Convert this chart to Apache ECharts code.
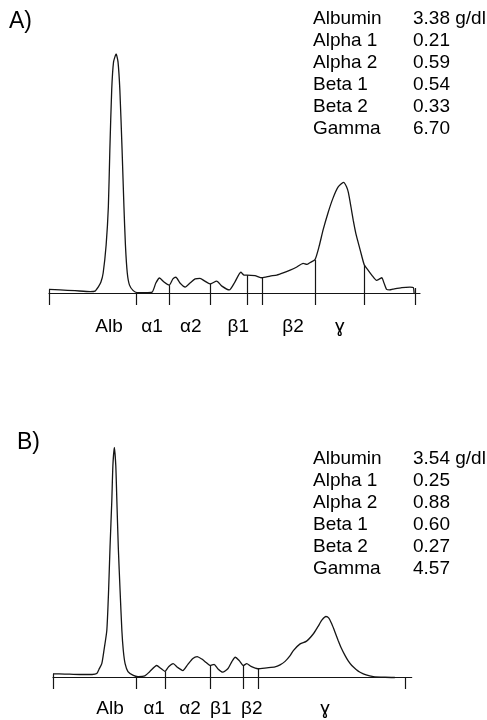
<!DOCTYPE html>
<html>
<head>
<meta charset="utf-8">
<script src="https://cdn.jsdelivr.net/npm/echarts@6/dist/echarts.min.js"></script>
<style>
html,body{margin:0;padding:0;background:#fff;}
#chart{width:487px;height:720px;}
</style>
</head>
<body>
<div id="chart"></div>
<script>
// ---------- Panel A: densitometry trace (x = relative migration 0-100, y = relative absorbance, albumin peak = 100)
var traceAx = [0,3.0,7.0,11.1,12.4,13.3,14.0,14.6,15.4,16.0,16.4,16.9,17.4,18.1,18.6,19.1,19.7,20.2,20.6,21.1,21.7,22.7,23.7,25.9,27.8,28.8,29.8,31.0,32.4,33.4,34.2,35.3,36.7,38.0,39.4,40.7,42.0,43.4,45.2,46.6,48.6,50.1,51.7,52.6,53.4,55.5,57.4,59.6,61.4,63.1,65.0,66.8,
  68.5,69.5,70.4,71.7,72.8,73.9,75.2,76.5,77.9,79.4,80.2,80.7,81.4,82.0,82.7,83.4,84.3,85.0,86.0,87.0,88.3,89.0,89.7,90.3,91.0,91.8,92.7,95.1,97.3,98.2,98.4];
var traceAy = [1.5,1.3,1.0,0.6,0.8,2.6,4.6,8.4,20.1,36.1,59.8,84.9,96.7,100,96.7,84.9,59.8,36.1,20.1,8.4,3.3,1.0,0.2,0.2,0.4,4.2,6.3,4.6,3.3,5.9,6.6,4.2,2.5,4.2,5.9,6.1,5.0,3.8,5.0,2.9,1.3,4.6,8.7,7.5,7.5,7.3,6.4,7.1,7.5,8.4,9.6,10.9,
  12.4,12.0,12.8,14.0,19.5,26.5,33.5,39.5,44.3,46.3,44.5,42.0,36.0,30.5,25.0,20.8,15.5,11.7,9.6,7.5,5.3,5.8,6.4,4.2,1.5,1.3,1.6,2.3,2.5,2.3,0];
var sepAx   = [0,23.4,32.4,43.4,53.4,57.4,71.8,85.0,98.7];
var sepAtop = [1.5,0,3.3,3.8,7.5,6.4,13.8,11.7,2.1];
var labelAx = [16.2,27.8,38.2,51.0,65.8,78.4];
var fractionLabels = ['Alb','α1','α2','β1','β2','ɣ'];
var tableNames = ['Albumin','Alpha 1','Alpha 2','Beta 1','Beta 2','Gamma'];
var tableAvals = ['3.38 g/dl','0.21','0.59','0.54','0.33','6.70'];

// ---------- Panel B
var traceBx = [0,3.3,7.5,10.9,12.2,12.8,13.6,14.2,15.0,15.5,15.9,16.4,16.7,17.1,17.5,17.8,18.2,18.7,19.2,19.6,20.1,20.9,22.4,23.7,25.6,27.0,28.9,30.1,31.2,32.3,33.5,34.8,36.2,37.6,39.0,40.2,41.5,42.7,43.8,44.9,46.0,47.3,48.8,49.9,50.8,51.9,53.1,54.0,55.2,57.1,
  59.6,61.9,63.3,64.7,66.1,67.0,68.9,70.7,72.6,73.9,75.0,76.1,76.9,77.7,78.6,79.5,80.4,81.4,82.3,83.3,84.5,85.6,87.3,89.3,92.6,95.3];
var traceBy = [1.6,1.5,1.3,1.3,1.7,3.5,6.0,11.7,20.4,37.8,56.7,77.0,92.2,100,92.2,77.0,56.7,37.8,20.4,11.7,6.0,2.6,0.9,0.4,0.7,2.6,5.2,3.9,2.7,4.8,6.0,4.3,3.0,5.7,8.3,9.1,8.0,6.5,5.2,5.7,3.7,2.3,3.9,7.0,8.8,7.4,5.2,6.0,4.8,3.8,
  4.2,4.6,5.5,7.0,9.5,11.7,14.6,15.8,19.0,22.2,25.0,26.5,25.8,23.3,19.8,16.1,12.7,9.6,7.2,5.2,3.5,2.3,1.1,0.4,0.1,0];
var sepBx   = [0,23.1,31.2,43.8,53.1,57.1,98.1];
var sepBtop = [1.6,0.4,2.7,5.2,5.2,3.8,0];
var labelBx = [15.9,28.2,38.2,46.8,55.4,75.8];
var tableBvals = ['3.54 g/dl','0.25','0.88','0.60','0.27','4.57'];

var FONT = '"Liberation Sans", Arial, sans-serif';
var INK = '#151515';

function zip(xs, ys){ return xs.map(function(x,i){ return [x, ys[i]]; }); }
function seps(xs, tops){ return xs.map(function(x,i){ return [{coord:[x,-5]},{coord:[x,tops[i]]}]; }); }
function xAxisFor(idx, pos, margin){
  return {
    gridIndex: idx, type: 'value', min: 0, max: 100,
    axisLine: {show: true, onZero: true, lineStyle: {color: INK, width: 1.2}},
    axisTick: {show: false},
    splitLine: {show: false},
    axisLabel: {
      customValues: pos,
      formatter: function(v){ var k = pos.indexOf(v); return k >= 0 ? fractionLabels[k] : ''; },
      margin: margin, fontSize: 19, color: '#000', fontFamily: FONT
    }
  };
}
function yAxisFor(idx){
  return {gridIndex: idx, type: 'value', min: -5, max: 100, show: false, splitLine: {show: false}};
}
function traceSeries(idx, xs, ys, sx, st){
  return {
    type: 'line', xAxisIndex: idx, yAxisIndex: idx,
    data: zip(xs, ys), showSymbol: false, smooth: 0.2,
    lineStyle: {color: INK, width: 1.3},
    silent: true, animation: false,
    markLine: {
      symbol: ['none','none'], silent: true, animation: false,
      label: {show: false},
      lineStyle: {color: INK, width: 1.2, type: 'solid'},
      emphasis: {disabled: true},
      data: seps(sx, st)
    }
  };
}
function tableGraphics(names, vals, y0, dy){
  var g = [];
  names.forEach(function(n,i){
    g.push({type:'text', x:313, y:y0 + dy*i, style:{text:n, fill:'#000', font:'19px ' + FONT, verticalAlign:'middle'}});
    g.push({type:'text', x:413, y:y0 + dy*i, style:{text:vals[i], fill:'#000', font:'19px ' + FONT, verticalAlign:'middle'}});
  });
  return g;
}

var chart = echarts.init(document.getElementById('chart'), null, {renderer: 'canvas'});
chart.setOption({
  backgroundColor: '#fff',
  animation: false,
  title: [
    {text: 'A)', left: 9, top: 10, padding: 0, textStyle: {fontSize: 23, fontWeight: 'normal', color: '#000', fontFamily: FONT}},
    {text: 'B)', left: 17, top: 431, padding: 0, textStyle: {fontSize: 23, fontWeight: 'normal', color: '#000', fontFamily: FONT}}
  ],
  grid: [
    {left: 49, width: 371, top: 54, height: 251, containLabel: false, outerBoundsMode: 'none'},
    {left: 53, width: 358.7, top: 447.3, height: 241.7, containLabel: false, outerBoundsMode: 'none'}
  ],
  xAxis: [xAxisFor(0, labelAx, 12), xAxisFor(1, labelBx, 10)],
  yAxis: [yAxisFor(0), yAxisFor(1)],
  series: [
    traceSeries(0, traceAx, traceAy, sepAx, sepAtop),
    traceSeries(1, traceBx, traceBy, sepBx, sepBtop)
  ],
  graphic: tableGraphics(tableNames, tableAvals, 18.5, 22.1).concat(tableGraphics(tableNames, tableBvals, 459, 22))
});
</script>
</body>
</html>
